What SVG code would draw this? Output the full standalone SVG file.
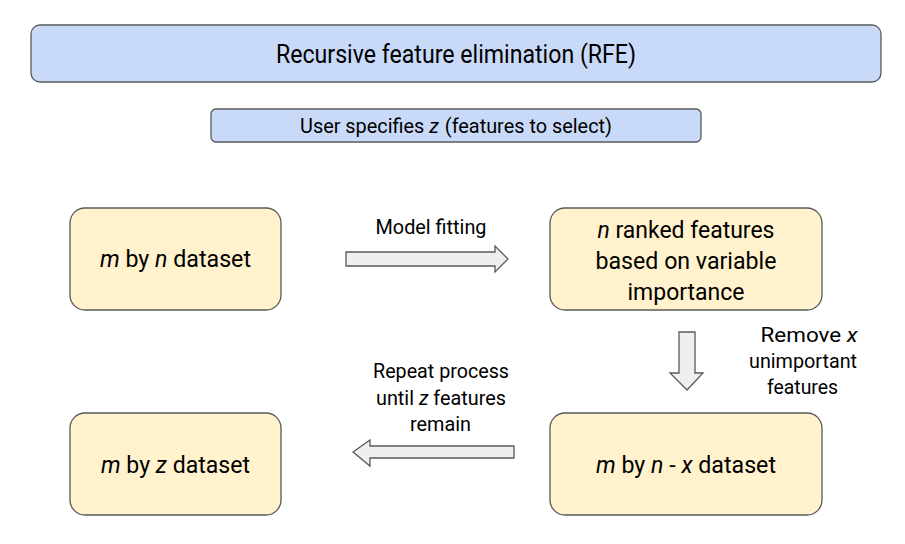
<svg xmlns="http://www.w3.org/2000/svg" width="905" height="544" viewBox="0 0 905 544">
<style>
text{font-family:Roboto,"Liberation Sans",sans-serif;fill:#000;text-anchor:middle;dominant-baseline:central}
.hdr{fill:#c9daf8;stroke:#595959;stroke-width:1.3}
.node{fill:#fff2cc;stroke:#595959;stroke-width:1.3}
.arr{fill:#efefef;stroke:#595959;stroke-width:1.3;stroke-linejoin:miter}
.ttl{font-size:25px}
.sub{font-size:20px}
.big{font-size:24px}
.mid{font-size:20px}
</style>
<rect width="905" height="544" fill="#fff"/>
<g id="title"><rect class="hdr" x="31" y="25" width="850" height="57" rx="9"/><text class="ttl" x="456" y="54" textLength="360" lengthAdjust="spacingAndGlyphs">Recursive feature elimination (RFE)</text></g>
<g id="subtitle"><rect class="hdr" x="211" y="109" width="490" height="33" rx="5"/><text class="sub" x="456" y="126" textLength="312" lengthAdjust="spacingAndGlyphs">User specifies <tspan font-style="italic">z</tspan><tspan dx="1"> (features to select)</tspan></text></g>
<g id="n1"><rect class="node" x="70" y="208" width="211" height="102" rx="15"/><text class="big" x="175.5" y="259" textLength="151" lengthAdjust="spacingAndGlyphs"><tspan font-style="italic">m</tspan> by <tspan font-style="italic">n</tspan> dataset</text></g>
<g id="n2"><rect class="node" x="550" y="208" width="272" height="102" rx="15"/><text class="big" x="686" y="230" textLength="177" lengthAdjust="spacingAndGlyphs"><tspan font-style="italic">n</tspan> ranked features</text><text class="big" x="686" y="261" textLength="181" lengthAdjust="spacingAndGlyphs">based on variable</text><text class="big" x="686" y="292" textLength="117" lengthAdjust="spacingAndGlyphs">importance</text></g>
<g id="n3"><rect class="node" x="70" y="413" width="211" height="102" rx="15"/><text class="big" x="175.5" y="465" textLength="149" lengthAdjust="spacingAndGlyphs"><tspan font-style="italic">m</tspan> by <tspan font-style="italic">z</tspan> dataset</text></g>
<g id="n4"><rect class="node" x="550" y="413" width="272" height="102" rx="15"/><text class="big" x="686" y="465" textLength="180" lengthAdjust="spacingAndGlyphs"><tspan font-style="italic">m</tspan> by <tspan font-style="italic">n</tspan> - <tspan font-style="italic">x</tspan> dataset</text></g>
<g id="connectors">
<polygon class="arr" points="346,252 495,252 495,246 508,259 495,272 495,266 346,266"/>
<polygon class="arr" points="679,332 695,332 695,373 703,373 687,390 670,373 679,373"/>
<polygon class="arr" points="514,446 370,446 370,440 353,452 370,466 370,458 514,458"/>
<text class="mid" x="431" y="227" textLength="111" lengthAdjust="spacingAndGlyphs">Model fitting</text>
<text class="mid" x="809" y="335" textLength="97" lengthAdjust="spacingAndGlyphs">Remove <tspan font-style="italic">x</tspan></text>
<text class="mid" x="803" y="361" textLength="108" lengthAdjust="spacingAndGlyphs">unimportant</text>
<text class="mid" x="802.5" y="387" textLength="71" lengthAdjust="spacingAndGlyphs">features</text>
<text class="mid" x="441" y="371" textLength="136" lengthAdjust="spacingAndGlyphs">Repeat process</text>
<text class="mid" x="441" y="398" textLength="130" lengthAdjust="spacingAndGlyphs">until <tspan font-style="italic">z</tspan> features</text>
<text class="mid" x="440.5" y="424" textLength="61" lengthAdjust="spacingAndGlyphs">remain</text>
</g>
</svg>
